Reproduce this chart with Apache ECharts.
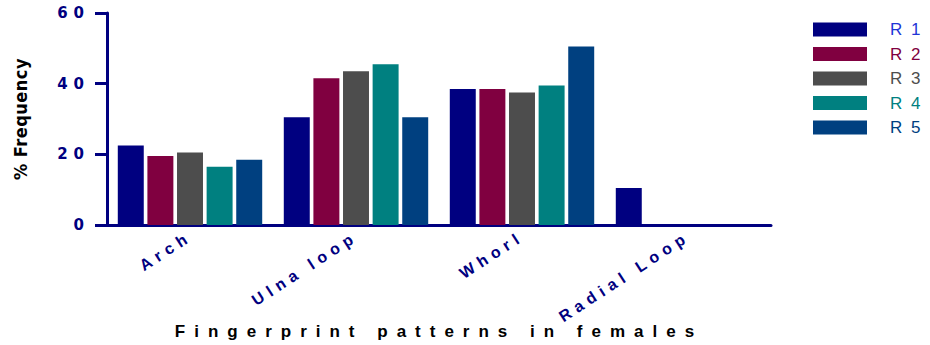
<!DOCTYPE html>
<html>
<head>
<meta charset="utf-8">
<script src="https://cdn.jsdelivr.net/npm/echarts@6/dist/echarts.min.js"></script>
<style>
  html, body { margin: 0; padding: 0; background: #fff; }
  #chart { width: 930px; height: 345px; }
  #chart text { letter-spacing: 4px; }
</style>
</head>
<body>
<div id="chart"></div>
<script>
// Fingerprint pattern frequencies (%) in females, by group
const categories = ['Arch', 'Ulna loop', 'Whorl', 'Radial Loop'];
const seriesNames = ['R 1', 'R 2', 'R 3', 'R 4', 'R 5'];
const r1 = [22.5, 30.5, 38.5, 10.5];
const r2 = [19.5, 41.5, 38.5, 0];
const r3 = [20.5, 43.5, 37.5, 0];
const r4 = [16.5, 45.5, 39.5, 0];
const r5 = [18.5, 30.5, 50.5, 0];
const yTicks = [0, 20, 40, 60];

const values = [r1, r2, r3, r4, r5];
const barColors = ['#000080', '#800040', '#4d4d4d', '#008080', '#004080'];
const legendTextColors = ['#1f35d6', '#800040', '#4d4d4d', '#008080', '#004080'];
const navy = '#000080';

const chart = echarts.init(document.getElementById('chart'), null, { renderer: 'svg' });

chart.setOption({
  animation: false,
  grid: { left: 107, right: 159, top: 13, bottom: 119 },
  legend: {
    orient: 'vertical',
    left: 808,
    top: 16,
    itemWidth: 54,
    itemHeight: 14,
    itemGap: 7.5,
    icon: 'rect',
    selectedMode: false,
    data: seriesNames.map((n, i) => ({
      name: n,
      textStyle: { color: legendTextColors[i] }
    })),
    textStyle: {
      fontFamily: 'Liberation Sans, Arial, sans-serif',
      fontSize: 17,
      padding: [0, 0, 0, 18]
    }
  },
  xAxis: {
    type: 'category',
    data: categories,
    name: 'Fingerprint patterns in females',
    nameLocation: 'middle',
    nameGap: 98,
    nameTextStyle: {
      color: '#000',
      fontWeight: 'bold',
      fontSize: 17,
      fontFamily: 'Liberation Sans, Arial, sans-serif'
    },
    axisLine: { lineStyle: { color: navy, width: 3 } },
    axisTick: { alignWithLabel: true, length: 5, lineStyle: { color: navy, width: 3 } },
    axisLabel: {
      rotate: 33,
      margin: 10,
      color: navy,
      fontWeight: 'bold',
      fontSize: 16,
      fontFamily: 'Liberation Sans, Arial, sans-serif'
    }
  },
  yAxis: {
    type: 'value',
    min: yTicks[0],
    max: yTicks[yTicks.length - 1],
    interval: yTicks[1] - yTicks[0],
    name: '% Frequency',
    nameLocation: 'middle',
    nameRotate: 90,
    nameGap: 78,
    nameTextStyle: {
      color: '#000',
      fontWeight: 'bold',
      fontSize: 18,
      fontFamily: 'Liberation Sans Narrow, DejaVu Sans Condensed, sans-serif'
    },
    splitLine: { show: false },
    axisLine: { show: true, lineStyle: { color: navy, width: 3 } },
    axisTick: { show: true, length: 12, lineStyle: { color: navy, width: 3 } },
    axisLabel: {
      margin: 17,
      color: navy,
      fontWeight: 'bold',
      fontSize: 15,
      fontFamily: 'DejaVu Sans, sans-serif'
    }
  },
  series: seriesNames.map((n, i) => ({
    name: n,
    type: 'bar',
    data: values[i],
    barGap: '14%',
    barCategoryGap: '13%',
    itemStyle: { color: barColors[i] }
  }))
});

// Per-text letter spacing
function spaceText() {
  document.querySelectorAll('#chart text').forEach(t => {
    const s = t.textContent;
    if (s === '% Frequency') t.style.letterSpacing = '0.5px';
    else if (s === 'Fingerprint patterns in females') t.style.letterSpacing = '9px';
    else if (/^\d+$/.test(s)) t.style.letterSpacing = '6px';
    else if (/^R \d$/.test(s)) t.style.letterSpacing = '2px';
    else t.style.letterSpacing = '5.5px';
  });
}
spaceText();
chart.on('finished', spaceText);
</script>
</body>
</html>
